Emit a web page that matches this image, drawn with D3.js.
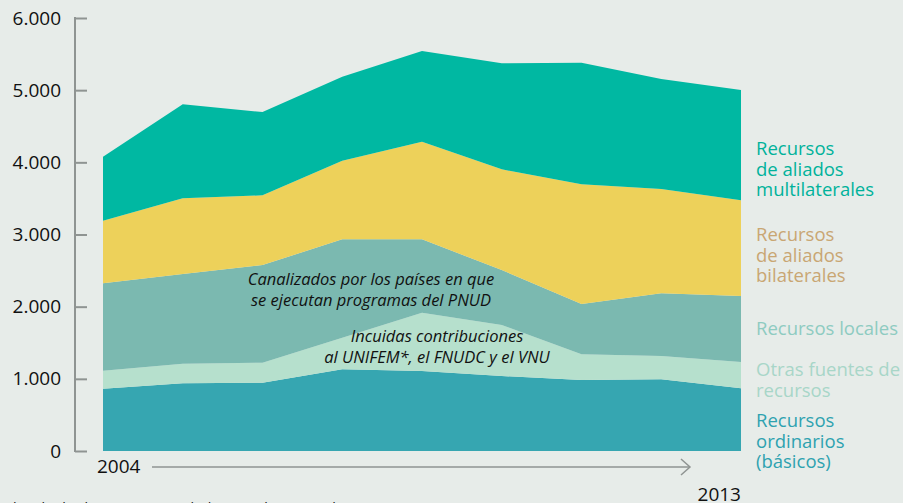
<!DOCTYPE html>
<html><head><meta charset="utf-8">
<script src="https://cdn.jsdelivr.net/npm/d3@7"></script>
<style>
html,body{margin:0;padding:0;background:#e7ece9;}
svg{display:block;font-family:"Open Sans",sans-serif;}
</style></head>
<body><svg id="c" width="903" height="503"></svg>
<script>
const years = [2005, 2006, 2007, 2008, 2009, 2010, 2011, 2012, 2013];
const ordinarios    = [863, 938, 946, 1132, 1108, 1039, 984, 993, 869];
const otras         = [250, 272, 278, 439, 809, 707, 356, 323, 364];
const locales       = [1210, 1242, 1353, 1362, 1016, 762, 697, 869, 915];
const bilaterales   = [868, 1050, 966, 1089, 1353, 1395, 1658, 1445, 1326];
const multilaterales= [887, 1302, 1154, 1165, 1256, 1469, 1685, 1524, 1528];
const yTicks = [0, 1000, 2000, 3000, 4000, 5000, 6000];
const seriesKeys = ["ordinarios","otras","locales","bilaterales","multilaterales"];
const seriesColors = ["#36a6b1","#b6e0cd","#7bb9b0","#edd15a","#00b8a2"];
const legendLines = [
  ["Recursos","de aliados","multilaterales"],
  ["Recursos","de aliados","bilaterales"],
  ["Recursos locales"],
  ["Otras fuentes de","recursos"],
  ["Recursos","ordinarios","(básicos)"]
];
const legendColors = ["#00b29b","#c9a673","#8ecbc1","#a8d6c8","#2ea2b0"];
const legendY = [155, 241, 335, 376, 427];

const svg = d3.select("#c");
const x = d3.scaleLinear().domain([0, years.length-1]).range([103, 741]);
const y = d3.scaleLinear().domain([0, 6000]).range([451, 18]);

const table = years.map((yr,i)=>({year:yr, ordinarios:ordinarios[i], otras:otras[i], locales:locales[i], bilaterales:bilaterales[i], multilaterales:multilaterales[i]}));
const stack = d3.stack().keys(seriesKeys)(table);
const area = d3.area().x((d,i)=>x(i)).y0(d=>y(d[0])).y1(d=>y(d[1]));
svg.append("g").selectAll("path").data(stack).join("path")
  .attr("d", area).attr("fill",(d,i)=>seriesColors[i]);

// y axis
const axis = d3.axisLeft(y).tickValues(yTicks).tickSize(-12).tickPadding(14)
  .tickFormat(d=>d3.format(",")(d).replace(/,/g,"."));
const ga = svg.append("g").attr("transform","translate(75,0)").call(axis);
ga.select(".domain").remove();
ga.selectAll(".tick line").attr("stroke","#8f9492").attr("stroke-width",2);
ga.selectAll(".tick text").attr("font-size",19).attr("fill","#111").attr("font-family","Open Sans");
ga.append("line").attr("x1",0).attr("x2",0).attr("y1",y(6000)-1).attr("y2",y(0)+1)
  .attr("stroke","#8f9492").attr("stroke-width",2);

// x axis labels and arrow
svg.append("text").attr("x",97).attr("y",473).attr("font-size",19).attr("fill","#111").text(String(years[0]-1));
svg.append("text").attr("x",741).attr("y",501).attr("text-anchor","end").attr("font-size",19).attr("fill","#111").text(String(years[years.length-1]));
svg.append("line").attr("x1",152).attr("x2",690).attr("y1",467).attr("y2",467).attr("stroke","#8f9492").attr("stroke-width",1.5);
svg.append("path").attr("d","M681,459 L690,467 L681,475").attr("fill","none").attr("stroke","#8f9492").attr("stroke-width",1.5);

// legend
legendLines.forEach((lines,i)=>{
  const t = svg.append("text").attr("x",756).attr("y",legendY[i]).attr("font-size",18.5).attr("fill",legendColors[i]);
  lines.forEach((l,j)=>t.append("tspan").attr("x",756).attr("dy", j===0?0:20.5).text(l));
});

// annotations
function note(lines, cx, by){
  const t = svg.append("text").attr("x",cx).attr("y",by).attr("text-anchor","middle")
    .attr("font-size",16.5).attr("font-style","italic").attr("fill","#111");
  lines.forEach((l,j)=>t.append("tspan").attr("x",cx).attr("dy", j===0?0:21).text(l));
}
note(["Canalizados por los países en que","se ejecutan programas del PNUD"], 371, 285);
note(["Incuidas contribuciones","al UNIFEM*, el FNUDC y el VNU"], 437, 342);

// footnote (partially cut at bottom)
svg.append("text").attr("x",11).attr("y",513).attr("font-size",14).attr("fill","#111")
  .text("* Incluidos los recursos recibidos por el UNIFEM de 2004 a 2008");
</script>
</body></html>
